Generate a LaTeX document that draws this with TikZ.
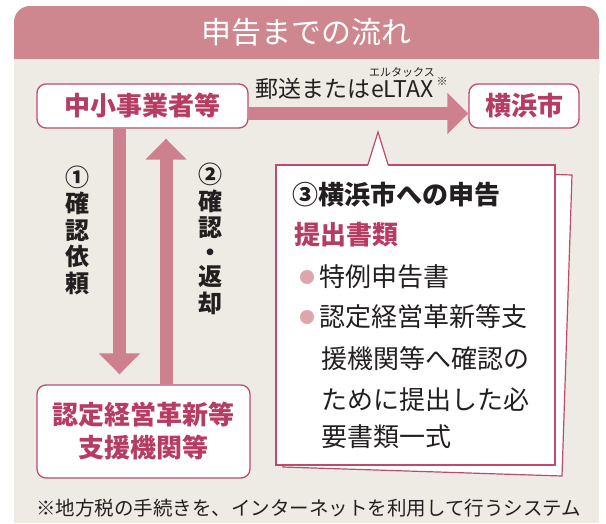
\documentclass[tikz,border=0pt]{standalone}
\usepackage{fontspec}
\newfontfamily\jp{Noto Sans CJK JP}
\usetikzlibrary{arrows.meta}
\definecolor{hdr}{HTML}{CF878F}
\definecolor{bodybg}{HTML}{EEEBE5}
\definecolor{arrowc}{HTML}{CD818E}
\definecolor{boxline}{HTML}{C04A6D}
\definecolor{boxtext}{HTML}{B73C62}
\definecolor{dotc}{HTML}{DDA5AC}
\definecolor{ink}{HTML}{231F20}
\begin{document}
\begin{tikzpicture}[x=1pt,y=-1pt,
  box/.style={draw=boxline, line width=1.3pt, fill=white, rounded corners=9pt, text=boxtext,
    font=\jp\bfseries\fontsize{26}{33}\selectfont, inner sep=0pt, align=center},
  flow/.style={draw=arrowc, line width=13pt, -{Triangle[width=40pt,length=21pt]}},
  card/.style={draw=boxline, line width=1.2pt, fill=white},
  body/.style={text=ink, font=\jp\fontsize{26}{26}\selectfont, anchor=west, inner sep=0pt},
  vlab/.style={text=ink, font=\jp\bfseries\fontsize{24}{26.5}\selectfont, align=center, inner sep=0pt},
  bulletdot/.style={circle, fill=dotc, minimum size=14pt, inner sep=0pt}
]
\useasboundingbox (0,0) rectangle (606,523);
% panel
\fill[hdr, rounded corners=16pt] (14,6) rectangle (599,90);
\fill[bodybg] (14,59) rectangle (599,523);
\node[text=white, font=\jp\fontsize{30}{30}\selectfont, inner sep=0pt] (title) at (306,32) {申告までの流れ};

% boxes
\node[box, minimum width=211pt, minimum height=44pt] (sme) at (142.5,106) {中小事業者等};
\node[box, minimum width=110pt, minimum height=44pt] (city) at (524,106) {横浜市};
\node[box, minimum width=213pt, minimum height=93pt] (org) at (143.5,431.5) {認定経営革新等\\支援機関等};

% arrows
\draw[flow] ([yshift=-7.5pt]sme.east) -- ([yshift=-7.5pt]city.west);
\coordinate (dnx) at (119.5,0);
\coordinate (upx) at (166,0);
\coordinate (dnend) at ([yshift=10pt]org.north);
\coordinate (upend) at ([yshift=-10pt]sme.south);
\draw[flow] (sme.south -| dnx) -- (dnend -| dnx);
\draw[flow] (org.north -| upx) -- (upend -| upx);

% labels
\node[text=ink, font=\jp\fontsize{23}{23}\selectfont, anchor=west, inner sep=0pt] (via) at (255,89) {郵送または\hspace{1pt}eLTAX};
\node[text=ink, font=\jp\fontsize{11}{11}\selectfont, inner sep=0pt] (ruby) at (402,72) {エルタックス};
\node[text=ink, font=\jp\fontsize{11}{11}\selectfont, inner sep=0pt] (mark) at (442,81) {※};
\node[vlab] (l1) at (77,230) {①\\確\\認\\依\\頼};
\node[vlab] (l2) at (210,239) {②\\確\\認\\[-2pt]・\\[-2pt]返\\却};

% callout
\draw[card] (293,166) -- (572,175) -- (562,476) -- (283,467) -- cycle;
\node[card, minimum width=279pt, minimum height=300pt, inner sep=0pt] (note) at (415.5,315) {};
\coordinate (ptip) at (378,132);
\coordinate (pb) at (note.north -| ptip);
\fill[white] ([xshift=-10pt,yshift=-1.6pt]pb) -- (ptip) -- ([xshift=10pt,yshift=-1.6pt]pb) -- cycle;
\draw[boxline, line width=1.2pt] ([xshift=-10pt]pb) -- (ptip) -- ([xshift=10pt]pb);

\node[body, font=\jp\bfseries\fontsize{26}{26}\selectfont] (t3) at (292,195) {③横浜市への申告};
\node[body, text=boxtext, font=\jp\bfseries\fontsize{26}{26}\selectfont] (docs) at (294,235) {提出書類};
\node[bulletdot] (b1) at (307,277) {};
\node[body] (i1) at (319,277) {特例申告書};
\node[bulletdot] (b2) at (307,317) {};
\node[body] (i2) at (319,317) {認定経営革新等支};
\node[body] (i3) at (321,359) {援機関等へ確認の};
\node[body] (i4) at (321,400) {ために提出した必};
\node[body] (i5) at (321,437) {要書類一式};

% footnote
\node[text=ink, font=\jp\fontsize{19.5}{19.5}\selectfont, anchor=west, inner sep=0pt] (foot) at (36,508) {※地方税の手続きを、インターネットを利用して行うシステム};
\end{tikzpicture}
\end{document}
